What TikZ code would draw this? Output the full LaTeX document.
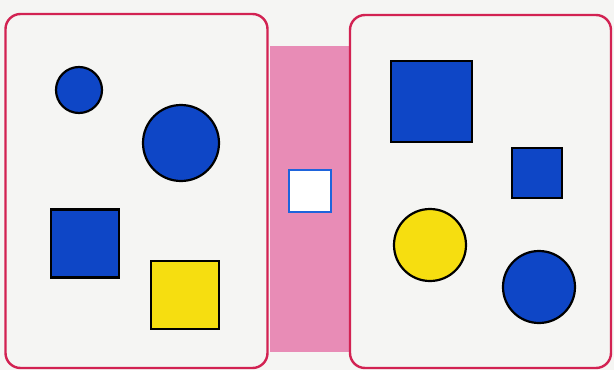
\documentclass[tikz,border=0pt]{standalone}
\definecolor{paper}{RGB}{245,245,243}
\definecolor{frame}{RGB}{210,34,82}
\definecolor{band}{RGB}{232,140,182}
\definecolor{shblue}{RGB}{14,70,198}
\definecolor{shyellow}{RGB}{246,222,16}
\definecolor{outlineblue}{RGB}{30,100,220}
\begin{document}
\begin{tikzpicture}[x=1pt,y=-1pt,
  setframe/.style={draw=frame,line width=2.4pt,rounded corners=15pt,inner sep=0pt,outer sep=0pt},
  blueshape/.style={draw=black,fill=shblue,line width=2.2pt,inner sep=0pt,outer sep=0pt},
  yellowshape/.style={draw=black,fill=shyellow,line width=2.2pt,inner sep=0pt,outer sep=0pt}]
\fill[paper] (0,0) rectangle (614,370);
\useasboundingbox (0,0) rectangle (614,370);
% pink band
\fill[band] (270,46) rectangle (349,352);
% frames
\node[setframe,minimum width=262pt,minimum height=354pt] (leftset) at (136.5,191) {};
\node[setframe,minimum width=261pt,minimum height=353pt] (rightset) at (480.5,191.5) {};
% empty square in the band
\node[draw=outlineblue,fill=white,line width=2pt,minimum width=42pt,minimum height=42pt,inner sep=0pt] (empty) at (309.5,191) {};
% left set
\node[blueshape,circle,minimum size=46pt] (c1) at (79,90) {};
\node[blueshape,circle,minimum size=76pt] (c2) at (181,143) {};
\node[blueshape,rectangle,minimum width=68pt,minimum height=68pt] (s1) at (85,243.5) {};
\node[yellowshape,rectangle,minimum width=68pt,minimum height=68pt] (s2) at (185,295) {};
% right set
\node[blueshape,rectangle,minimum width=81pt,minimum height=81pt] (s3) at (431.5,101.5) {};
\node[blueshape,rectangle,minimum width=50pt,minimum height=50pt] (s4) at (537,173) {};
\node[yellowshape,circle,minimum size=72pt] (c3) at (430,245) {};
\node[blueshape,circle,minimum size=72pt] (c4) at (539,287) {};
\end{tikzpicture}
\end{document}
